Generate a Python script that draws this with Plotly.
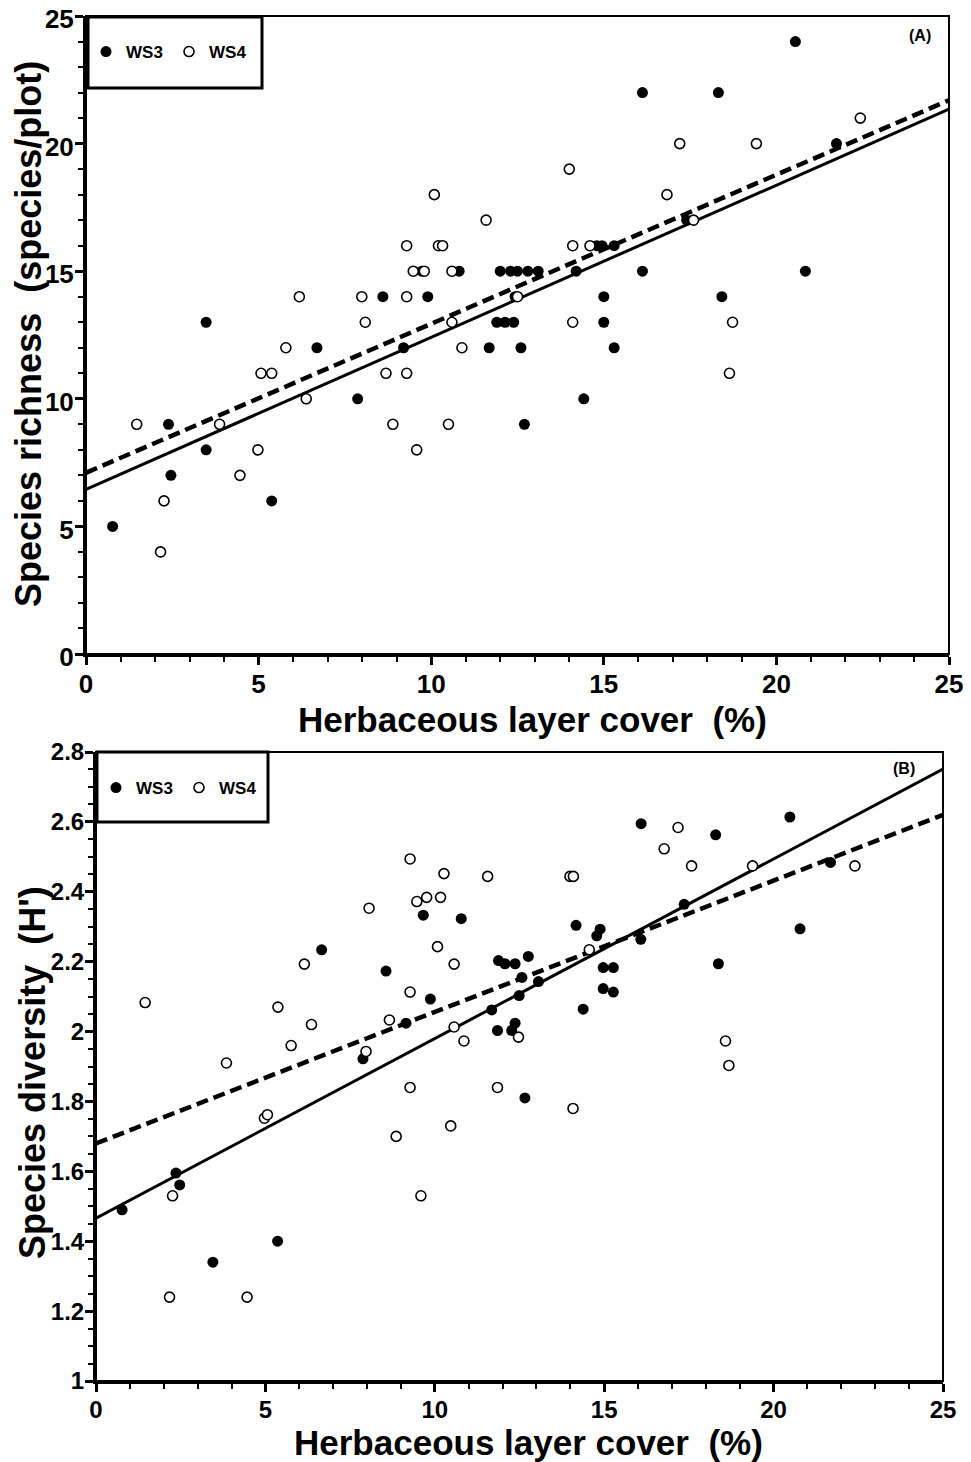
import plotly.graph_objects as go

# the page body adds an 8px offset; the figure is sized and positioned to compensate
OFF = 8
W, H = 971 - OFF, 1462 - OFF

# ---------------- Panel A: species richness ----------------
a_ws3_x = [0.77, 2.39, 2.46, 3.48, 3.48, 5.38, 6.69, 7.87, 8.6, 9.2, 9.73, 9.9, 10.81, 11.68, 11.9,
           12.0, 12.14, 12.3, 12.39, 12.43, 12.5, 12.6, 12.7, 12.8, 13.1, 14.2, 14.42, 14.8, 14.95,
           15.0, 15.0, 15.3, 15.3, 16.12, 16.12, 17.4, 18.32, 18.42, 20.55, 20.84, 21.74]
a_ws3_y = [5, 9, 7, 13, 8, 6, 12, 10, 14, 12, 15, 14, 15, 12, 13,
           15, 13, 15, 13, 14, 15, 12, 9, 15, 15, 15, 10, 16, 16,
           14, 13, 12, 16, 22, 15, 17, 22, 14, 24, 15, 20]
a_ws4_x = [1.47, 2.16, 2.26, 3.87, 4.46, 4.98, 5.07, 5.38, 5.79, 6.18, 6.38, 7.99, 8.09, 8.69, 8.89,
           9.29, 9.29, 9.29, 9.48, 9.58, 9.8, 10.09, 10.21, 10.33, 10.5, 10.6, 10.6, 10.89, 11.59,
           12.5, 14.0, 14.1, 14.1, 14.6, 16.83, 17.2, 17.6, 18.64, 18.73, 19.42, 22.43]
a_ws4_y = [9, 4, 6, 9, 7, 8, 11, 11, 12, 14, 10, 14, 13, 11, 9,
           16, 14, 11, 15, 8, 15, 18, 16, 16, 9, 15, 13, 12, 17,
           14, 19, 16, 13, 16, 18, 20, 17, 11, 13, 20, 21]

# ---------------- Panel B: species diversity ----------------
b_ws3_x = [0.77, 2.36, 2.47, 3.45, 5.36, 6.66, 7.88, 8.56, 9.15, 9.66, 9.87, 10.78, 11.68, 11.85,
           11.88, 12.07, 12.27, 12.37, 12.37, 12.49, 12.57, 12.66, 12.76, 13.06, 14.17, 14.38,
           14.78, 14.88, 14.97, 14.97, 15.27, 15.27, 16.08, 16.09, 17.36, 18.29, 18.37, 20.48,
           20.78, 21.68]
b_ws3_y = [1.49, 1.595, 1.561, 1.34, 1.40, 2.234, 1.922, 2.173, 2.024, 2.333, 2.093, 2.323, 2.062, 2.003,
           2.203, 2.194, 2.003, 2.194, 2.024, 2.103, 2.155, 1.81, 2.215, 2.143, 2.304, 2.064,
           2.274, 2.293, 2.183, 2.123, 2.183, 2.113, 2.264, 2.595, 2.364, 2.563, 2.194, 2.614,
           2.294, 2.484]
b_ws4_x = [1.45, 2.17, 2.26, 3.85, 4.46, 4.97, 5.06, 5.37, 5.76, 6.15, 6.36, 7.97, 8.06, 8.66,
           8.86, 9.27, 9.27, 9.27, 9.47, 9.59, 9.76, 10.08, 10.17, 10.27, 10.47, 10.57, 10.57,
           10.86, 11.56, 11.85, 12.47, 13.99, 14.08, 14.09, 14.56, 16.77, 17.18, 17.58, 18.58,
           18.68, 19.38, 22.4]
b_ws4_y = [2.083, 1.24, 1.53, 1.91, 1.24, 1.752, 1.762, 2.07, 1.96, 2.193, 2.02, 1.943, 2.353, 2.033,
           1.70, 2.113, 1.84, 2.494, 2.372, 1.53, 2.384, 2.243, 2.384, 2.452, 1.73, 2.193, 2.013,
           1.973, 2.444, 1.84, 1.984, 2.444, 1.78, 2.444, 2.234, 2.523, 2.584, 2.474, 1.973,
           1.903, 2.474, 2.474]

# fitted regression lines: [intercept, slope]
fit_a_ws3 = [6.45, 0.596]
fit_a_ws4 = [7.10, 0.584]
fit_b_ws3 = [1.466, 0.0514]
fit_b_ws4 = [1.680, 0.0376]
line_x = [0, 25]

x_ticks = [0, 5, 10, 15, 20, 25]
a_y_ticks = [0, 5, 10, 15, 20, 25]
b_y_ticks = [1, 1.2, 1.4, 1.6, 1.8, 2, 2.2, 2.4, 2.6, 2.8]
b_y_labels = ["1", "1.2", "1.4", "1.6", "1.8", "2", "2.2", "2.4", "2.6", "2.8"]

series_names = ["WS3", "WS4"]
x_title = "Herbaceous layer cover\u00a0\u00a0(%)"
a_y_title = "Species richness\u00a0\u00a0(species/plot)"
b_y_title = "Species diversity\u00a0\u00a0(H')"

FONT = "Liberation Sans"


def px(x):
    return (x - OFF) / W


def py(y):
    return 1 - (y - OFF) / H


def line_y(fit):
    return [fit[0] + fit[1] * v for v in line_x]


filled = dict(color="black", size=11, line=dict(width=0))
opened = dict(color="white", size=10, line=dict(color="black", width=1.6))

fig = go.Figure()

# Panel A
fig.add_trace(go.Scatter(x=line_x, y=line_y(fit_a_ws3), mode="lines", xaxis="x", yaxis="y",
                         line=dict(color="black", width=3), showlegend=False, hoverinfo="skip"))
fig.add_trace(go.Scatter(x=line_x, y=line_y(fit_a_ws4), mode="lines", xaxis="x", yaxis="y",
                         line=dict(color="black", width=4.5, dash="12px,6px"), showlegend=False,
                         hoverinfo="skip"))
fig.add_trace(go.Scatter(x=a_ws3_x, y=a_ws3_y, mode="markers", name=series_names[0], xaxis="x",
                         yaxis="y", marker=filled, legend="legend"))
fig.add_trace(go.Scatter(x=a_ws4_x, y=a_ws4_y, mode="markers", name=series_names[1], xaxis="x",
                         yaxis="y", marker=opened, legend="legend"))

# Panel B
fig.add_trace(go.Scatter(x=line_x, y=line_y(fit_b_ws3), mode="lines", xaxis="x2", yaxis="y2",
                         line=dict(color="black", width=3), showlegend=False, hoverinfo="skip"))
fig.add_trace(go.Scatter(x=line_x, y=line_y(fit_b_ws4), mode="lines", xaxis="x2", yaxis="y2",
                         line=dict(color="black", width=4.5, dash="12px,6px"), showlegend=False,
                         hoverinfo="skip"))
fig.add_trace(go.Scatter(x=b_ws3_x, y=b_ws3_y, mode="markers", name=series_names[0], xaxis="x2",
                         yaxis="y2", marker=filled, legend="legend2"))
fig.add_trace(go.Scatter(x=b_ws4_x, y=b_ws4_y, mode="markers", name=series_names[1], xaxis="x2",
                         yaxis="y2", marker=opened, legend="legend2"))


def xaxis(dom, anchor, size):
    return dict(domain=dom, anchor=anchor, range=[0, 25], tickvals=x_ticks, ticks="outside",
                ticklen=8, tickwidth=2.5, tickcolor="black", showline=True, linewidth=3,
                linecolor="black", showgrid=False, zeroline=False, ticklabelstandoff=-3,
                ticklabeloverflow="allow",
                tickfont=dict(family=FONT, size=size, color="black", weight="bold"),
                minor=dict(dtick=1, ticks="outside", ticklen=5, tickwidth=2, tickcolor="black",
                           showgrid=False),
                automargin=False, fixedrange=True)


def yaxis(dom, anchor, rng, vals, labels, mdt, size, shift=0):
    return dict(domain=dom, anchor=anchor, range=rng, tickvals=vals, ticktext=labels,
                ticks="outside", ticklen=8, tickwidth=2.5, tickcolor="black", showline=True,
                linewidth=3, linecolor="black", showgrid=False, zeroline=False,
                ticklabelstandoff=-4, ticklabeloverflow="allow", ticklabelshift=shift,
                tickfont=dict(family=FONT, size=size, color="black", weight="bold"),
                minor=dict(dtick=mdt, ticks="outside", ticklen=5, tickwidth=2, tickcolor="black",
                           showgrid=False),
                automargin=False, fixedrange=True)


a_left, a_right, a_top, a_bot = 86, 949, 16, 654
b_left, b_right, b_top, b_bot = 96, 943, 752, 1381

legend_common = dict(orientation="h", font=dict(family=FONT, size=17, color="black", weight="bold"),
                     bgcolor="rgba(0,0,0,0)", borderwidth=0, entrywidth=38,
                     entrywidthmode="pixels", xanchor="left", yanchor="middle", itemwidth=30,
                     tracegroupgap=0)

fig.update_layout(
    width=W, height=H, margin=dict(l=0, r=0, t=0, b=0),
    paper_bgcolor="white", plot_bgcolor="white",
    xaxis=xaxis([px(a_left), px(a_right)], "y", 26),
    yaxis=yaxis([py(a_bot), py(a_top)], "x", [0, 25], a_y_ticks, [str(v) for v in a_y_ticks], 1, 26, 3),
    xaxis2=xaxis([px(b_left), px(b_right)], "y2", 24),
    yaxis2=yaxis([py(b_bot), py(b_top)], "x2", [1, 2.8], b_y_ticks, b_y_labels, 0.05, 24),
    legend=dict(x=px(86), y=py(52), **legend_common),
    legend2=dict(x=px(96), y=py(788), **legend_common),
    showlegend=True,
)

shapes = [
    # frames
    dict(type="rect", xref="x domain", yref="y domain", x0=0, x1=1, y0=0, y1=1,
         line=dict(color="black", width=2)),
    dict(type="rect", xref="x2 domain", yref="y2 domain", x0=0, x1=1, y0=0, y1=1,
         line=dict(color="black", width=2)),
    # legend boxes
    dict(type="rect", xref="paper", yref="paper", x0=px(88), x1=px(262), y0=py(88), y1=py(17),
         line=dict(color="black", width=3)),
    dict(type="rect", xref="paper", yref="paper", x0=px(97), x1=px(268), y0=py(822), y1=py(752),
         line=dict(color="black", width=3)),
]
fig.update_layout(shapes=shapes)

title_font = dict(family=FONT, size=35, color="black", weight="bold")
ytitle_font = dict(family=FONT, size=36, color="black", weight="bold")
ann = [
    dict(text=a_y_title, x=px(29), y=py(334), textangle=-90, font=ytitle_font),
    dict(text=x_title, x=px(532), y=py(719), font=title_font),
    dict(text=b_y_title, x=px(32), y=py(1073), textangle=-90, font=ytitle_font),
    dict(text=x_title, x=px(528), y=py(1442), font=title_font),
    dict(text="(A)", x=px(920), y=py(35), font=dict(family=FONT, size=16, color="black", weight="bold")),
    dict(text="(B)", x=px(904), y=py(768), font=dict(family=FONT, size=16, color="black", weight="bold")),
]
for a in ann:
    a.update(xref="paper", yref="paper", showarrow=False, xanchor="center", yanchor="middle")
fig.update_layout(annotations=ann)

fig.write_html("out.html")
